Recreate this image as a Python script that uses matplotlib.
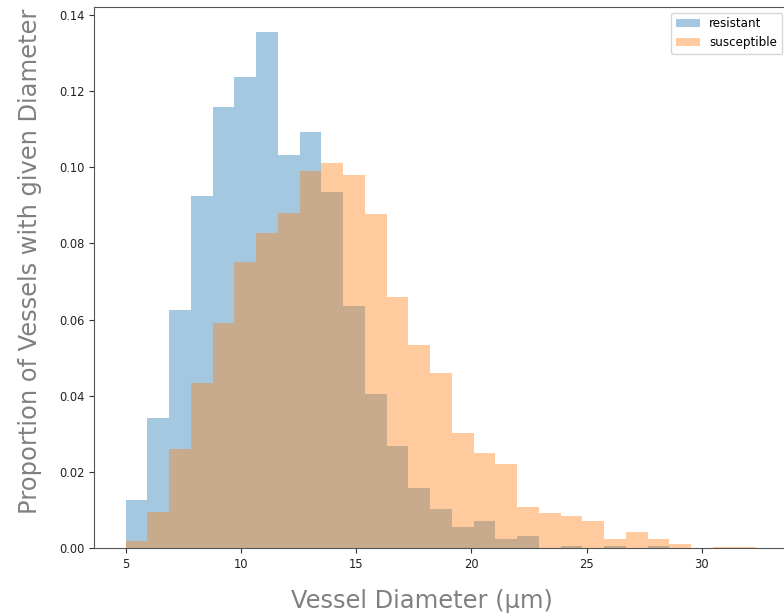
import numpy as np
import matplotlib
matplotlib.use("Agg")
import matplotlib.pyplot as plt

# Histogram bin edges (29 equal bins from 5 to ~32.37 µm)
bin_start = 5.0
bin_stop = 32.37
n_bins = 29

resistant = [0.0127, 0.0341, 0.0625, 0.0925, 0.1157, 0.1236, 0.1354, 0.1031,
             0.1092, 0.0936, 0.0636, 0.0406, 0.0269, 0.0157, 0.0102, 0.0057,
             0.0072, 0.0024, 0.0033, 0.0, 0.0007, 0.0, 0.0007, 0.0, 0.0007,
             0.0, 0.0, 0.0, 0.0]
susceptible = [0.0019, 0.0095, 0.0261, 0.0435, 0.0592, 0.0752, 0.0827, 0.0879,
               0.0991, 0.1010, 0.0980, 0.0877, 0.0659, 0.0534, 0.0459, 0.0302,
               0.0249, 0.0220, 0.0108, 0.0092, 0.0086, 0.0072, 0.0024, 0.0043,
               0.0024, 0.0010, 0.0, 0.0003, 0.0003]
labels = ["resistant", "susceptible"]
xticks = [5, 10, 15, 20, 25, 30]
yticks = [0.00, 0.02, 0.04, 0.06, 0.08, 0.10, 0.12, 0.14]

edges = np.linspace(bin_start, bin_stop, n_bins + 1)
centers = (edges[:-1] + edges[1:]) / 2

fig = plt.figure(figsize=(7.84, 6.16), dpi=100)
ax = fig.add_axes([94 / 784, (616 - 548.3) / 616, (788 - 94) / 784, (548.3 - 6.7) / 616])

ax.hist(centers, bins=edges, weights=resistant, alpha=0.4, color="#1f77b4", label=labels[0])
ax.hist(centers, bins=edges, weights=susceptible, alpha=0.4, color="#ff7f0e", label=labels[1])

rng = bin_stop - bin_start
ax.set_xlim(bin_start - 0.05 * rng, bin_stop + 0.05 * rng)
ax.set_ylim(0, 0.1421)
ax.set_xticks(xticks)
ax.set_yticks(yticks)
ax.set_yticklabels([f"{v:.2f}" for v in yticks])
ax.tick_params(labelsize=8.3, colors="#333333", labelcolor="#222222")
for s in ax.spines.values():
    s.set_color("#555555")
ax.spines["right"].set_visible(False)

ax.set_xlabel("Vessel Diameter (µm)", fontsize=17.4, color="#808080")
ax.set_ylabel("Proportion of Vessels with given Diameter", fontsize=17.4, color="#808080")
ax.xaxis.set_label_coords((421.5 - 94) / 694, (548.3 - 589) / 541.6)
ax.yaxis.set_label_coords((42 - 94) / 694, (548.3 - 261.5) / 541.6)

leg = ax.legend(loc="upper right", fontsize=8.6, bbox_to_anchor=(782 / 784, 1 - 12.7 / 616),
                bbox_transform=fig.transFigure, borderaxespad=0)

fig.savefig("out.png", dpi=100)
